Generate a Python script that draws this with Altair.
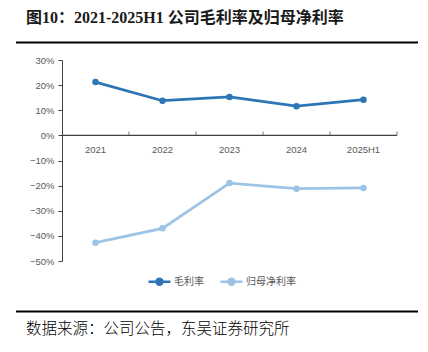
import altair as alt
import pandas as pd

years = ["2021", "2022", "2023", "2024", "2025H1"]
gross_margin = [0.212, 0.138, 0.153, 0.116, 0.142]
net_margin = [-0.427, -0.370, -0.190, -0.212, -0.209]
series_names = ["毛利率", "归母净利率"]
series_colors = ["#2E75B6", "#9DC3E6"]
y_ticks = [0.3, 0.2, 0.1, 0.0, -0.1, -0.2, -0.3, -0.4, -0.5]
title_text = "图10：2021-2025H1 公司毛利率及归母净利率"
source_text = "数据来源：公司公告，东吴证券研究所"

rows = []
for y, g, n in zip(years, gross_margin, net_margin):
    rows.append({"year": y, "series": series_names[0], "value": g})
    rows.append({"year": y, "series": series_names[1], "value": n})
df = pd.DataFrame(rows)
df_years = pd.DataFrame({"year": years, "value": [0.0] * len(years)})
df_zero = pd.DataFrame({"value": [0.0]})

W, H = 335, 201
zero_from_top = H * 0.3 / 0.8

xscale = alt.Scale(type="band", paddingInner=0, paddingOuter=0)
yscale = alt.Scale(domain=[-0.5, 0.3], nice=False, zero=False)
cscale = alt.Scale(domain=series_names, range=series_colors)

sym_path = "M-1,0H1M-0.27,0A0.27,0.27,0,1,1,0.27,0A0.27,0.27,0,1,1,-0.27,0Z"

legend = alt.Legend(
    title=None, orient="none", legendX=85, legendY=209, direction="horizontal",
    symbolType=sym_path, symbolSize=484, symbolStrokeWidth=2.5,
    labelFont="Noto Sans CJK SC", labelFontSize=10, labelColor="#595959",
    labelOffset=2, columnPadding=11,
)

x_axis = alt.Axis(orient="bottom", offset=-(H - zero_from_top), title=None,
                  ticks=False, domain=False,
                  labelAngle=0, labelPadding=9, labelFont="Liberation Sans",
                  labelFontSize=9.5, labelColor="#595959", grid=False)
y_axis = alt.Axis(values=y_ticks, format=".0%", title=None, grid=False,
                  labelOverlap=False, labelFlush=False,
                  domainColor="#404040", tickColor="#404040", tickSize=4,
                  labelPadding=4, labelFont="Liberation Sans", labelFontSize=9.5,
                  labelColor="#595959")

color_enc = alt.Color("series:N", scale=cscale, sort=series_names, legend=legend)

lines = alt.Chart(df).mark_line(strokeWidth=2.75).encode(
    x=alt.X("year:N", sort=years, scale=xscale, bandPosition=0.5, axis=x_axis),
    y=alt.Y("value:Q", scale=yscale, axis=y_axis),
    color=color_enc, detail="series:N")
points = alt.Chart(df).mark_point(filled=True, size=42, opacity=1).encode(
    x=alt.X("year:N", sort=years, scale=xscale, bandPosition=0.5, axis=x_axis),
    y=alt.Y("value:Q", scale=yscale, axis=y_axis), color=color_enc)

zero_line = alt.Chart(df_zero).mark_rule(color="#404040", strokeWidth=1.2).encode(
    y=alt.Y("value:Q", scale=yscale, axis=y_axis))

band_ticks = alt.Chart(df_years).mark_tick(
    orient="vertical", size=4, thickness=1, color="#404040", yOffset=-2
).encode(
    x=alt.X("year:N", sort=years, scale=xscale, bandPosition=1, axis=x_axis),
    y=alt.Y("value:Q", scale=yscale, axis=y_axis))

one = alt.Data(values=[{}])
title_mark = alt.Chart(one).mark_text(
    text=title_text, align="left", baseline="middle", fontSize=16, fontWeight="bold",
    font="Liberation Serif, Noto Sans CJK SC", color="#1a1a1a"
).encode(x=alt.value(-36), y=alt.value(-42))
title_rule = alt.Chart(one).mark_rule(color="#000000", strokeWidth=2).encode(
    x=alt.value(-46), x2=alt.value(356), y=alt.value(-17.5))
foot_rule = alt.Chart(one).mark_rule(color="#000000", strokeWidth=2).encode(
    x=alt.value(-46), x2=alt.value(356), y=alt.value(251.5))
source_mark = alt.Chart(one).mark_text(
    text=source_text, align="left", baseline="middle", fontSize=15.5, fontWeight=300,
    font="Noto Sans CJK SC", color="#000000"
).encode(x=alt.value(-36), y=alt.value(268.5))

chart = alt.layer(
    lines, zero_line, band_ticks, points, title_mark, title_rule, foot_rule, source_mark
).properties(
    width=W, height=H,
    autosize=alt.AutoSizeParams(type="none"),
    padding={"left": 62, "top": 60, "right": 31, "bottom": 91},
    background="white",
).configure_view(strokeWidth=0).configure_axisY(labelOverlap=False)

chart.save("out.html", embed_options={"renderer": "svg", "actions": False})
